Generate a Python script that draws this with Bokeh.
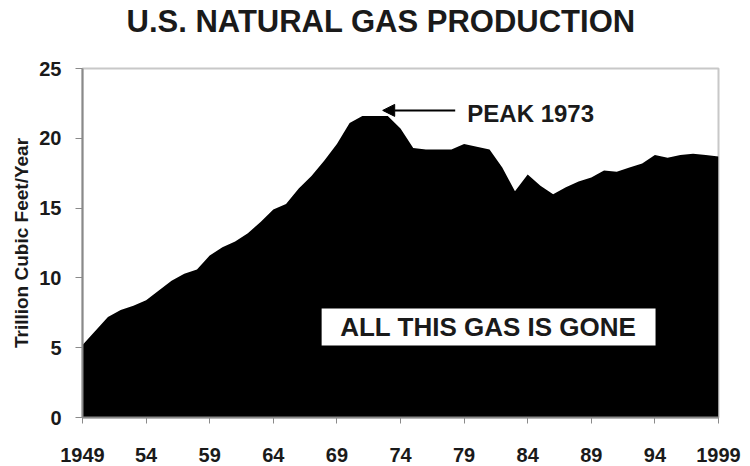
from bokeh.plotting import figure
from bokeh.models import Range1d, FixedTicker, Arrow, NormalHead, Label, BoxAnnotation, ColumnDataSource, Title
from bokeh.embed import file_html
from bokeh.resources import INLINE

years = list(range(1949, 2000))
production = [5.2, 6.2, 7.2, 7.7, 8.0, 8.4, 9.1, 9.8, 10.3, 10.6,
              11.6, 12.2, 12.6, 13.2, 14.0, 14.9, 15.3, 16.4, 17.3, 18.4,
              19.6, 21.1, 21.6, 21.6, 21.6, 20.7, 19.3, 19.2, 19.2, 19.2,
              19.6, 19.4, 19.2, 17.9, 16.2, 17.4, 16.6, 16.0, 16.5, 16.9,
              17.2, 17.7, 17.6, 17.9, 18.2, 18.8, 18.6, 18.8, 18.9, 18.8,
              18.7]
x_ticks = [1949, 1954, 1959, 1964, 1969, 1974, 1979, 1984, 1989, 1994, 1999]
x_tick_labels = ["1949", "54", "59", "64", "69", "74", "79", "84", "89", "94", "1999"]
y_ticks = [0, 5, 10, 15, 20, 25]

FONT = "Liberation Sans"

src = ColumnDataSource(data=dict(year=years, prod=production, base=[0] * len(years)))

p = figure(width=748, height=464, output_backend="svg", toolbar_location=None,
           x_range=Range1d(1949, 1999), y_range=Range1d(0, 25),
           min_border_left=82, min_border_right=30, min_border_top=68, min_border_bottom=44)

# spacer between the frame and the title
p.add_layout(Title(text=" ", text_font=FONT, text_font_size="20px", standoff=4), "above")

p.title.text = "U.S. NATURAL GAS PRODUCTION"
p.title.text_font = FONT
p.title.text_font_size = "31px"
p.title.text_font_style = "bold"
p.title.text_color = "#1a1a1a"
p.title.align = "left"
p.title.offset = 44
p.title.vertical_align = "top"
p.title.standoff = 0

p.varea(x="year", y1="base", y2="prod", source=src, fill_color="black")

p.xgrid.visible = False
p.ygrid.visible = False
p.outline_line_color = "#c8c8c8"
p.outline_line_width = 2
p.background_fill_color = "white"

p.xaxis.ticker = FixedTicker(ticks=x_ticks)
p.xaxis.major_label_overrides = {t: l for t, l in zip(x_ticks, x_tick_labels)}
p.yaxis.ticker = FixedTicker(ticks=y_ticks)

for ax in (p.xaxis, p.yaxis):
    ax.axis_line_color = "#8a8a8a"
    ax.axis_line_width = 2
    ax.major_tick_line_color = "#8a8a8a"
    ax.major_tick_line_width = 1
    ax.major_tick_in = 0
    ax.minor_tick_line_color = None
    ax.major_label_text_font = FONT
    ax.major_label_text_font_size = "20px"
    ax.major_label_text_font_style = "bold"
    ax.major_label_text_color = "#1a1a1a"

p.xaxis.major_tick_out = 6
p.xaxis.major_label_standoff = 24
p.yaxis.major_tick_out = 7
p.yaxis.major_label_standoff = 14

p.yaxis.axis_label = "Trillion Cubic Feet/Year"
p.yaxis.axis_label_text_font = FONT
p.yaxis.axis_label_text_font_size = "19px"
p.yaxis.axis_label_text_font_style = "bold"
p.yaxis.axis_label_text_color = "#1a1a1a"
p.yaxis.axis_label_standoff = 4

arrow = Arrow(end=NormalHead(size=12, fill_color="black", line_color="black"),
              x_start=1978.3, y_start=22.0, x_end=1972.6, y_end=22.0,
              line_color="black", line_width=2)
p.add_layout(arrow)

p.add_layout(Label(x=1979.25, y=21.75, text="PEAK 1973", text_font=FONT,
                   text_font_size="24px", text_font_style="bold",
                   text_color="#1a1a1a", text_baseline="middle", text_align="left"))

p.add_layout(BoxAnnotation(left=1967.8, right=1994.05, bottom=5.15, top=7.81,
                           fill_color="white", fill_alpha=1.0, line_color=None))
p.add_layout(Label(x=1980.9, y=6.5, text="ALL THIS GAS IS GONE", text_font=FONT,
                   text_font_size="26px", text_font_style="bold",
                   text_color="#1a1a1a", text_baseline="middle", text_align="center"))

open("out.html", "w").write(file_html(p, INLINE))
